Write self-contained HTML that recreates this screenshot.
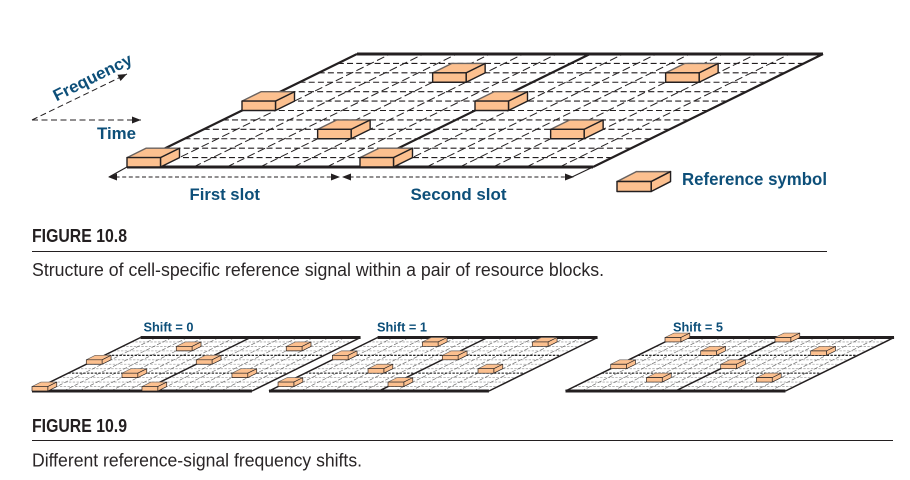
<!DOCTYPE html>
<html>
<head>
<meta charset="utf-8">
<style>
html,body{margin:0;padding:0;background:#fff;width:910px;height:480px;overflow:hidden}
svg{display:block}
.b{font-family:"Liberation Sans",sans-serif;font-weight:bold;fill:#0d4f79}
.f{font-family:"Liberation Sans",sans-serif;font-weight:bold;fill:#231f20;font-size:18.5px}
.c{font-family:"Liberation Sans",sans-serif;fill:#2a2627;font-size:18px}
</style>
</head>
<body>
<svg width="910" height="480" viewBox="0 0 910 480" xmlns="http://www.w3.org/2000/svg">
<defs>
<path id="hl" fill="none" d="M19.17 -9.42h466M38.33 -18.83h466M57.5 -28.25h466M76.67 -37.67h466M95.83 -47.08h466M115 -56.5h466M134.17 -65.92h466M153.33 -75.33h466M172.5 -84.75h466M191.67 -94.17h466M210.83 -103.58h466"/>
<path id="sl" fill="none" d="M33.29 0l230 -113M66.57 0l230 -113M99.86 0l230 -113M133.14 0l230 -113M166.43 0l230 -113M199.71 0l230 -113M266.29 0l230 -113M299.57 0l230 -113M332.86 0l230 -113M366.14 0l230 -113M399.43 0l230 -113M432.71 0l230 -113"/>
<path id="fh" fill="none" d="M0 0H466M230 -113H696"/>
<path id="fs" fill="none" d="M0 0l230 -113M233 0l230 -113M466 0l230 -113"/>
<g id="k" stroke="#231f20" stroke-width="1.4" stroke-linejoin="round" fill="#fcc08f">
<path d="M0 -9.4L19 -18.8H52.5L33.5 -9.4Z" stroke="#6a6360"/>
<path d="M33.5 0L52.5 -9.4V-18.8L33.5 -9.4Z"/>
<rect x="0" y="-9.4" width="33.5" height="9.4"/>
</g>
<g id="s0">
<use href="#k" x="0" y="0"/><use href="#k" x="233" y="0"/>
<use href="#k" x="190.64" y="-28.25"/><use href="#k" x="423.64" y="-28.25"/>
<use href="#k" x="115" y="-56.5"/><use href="#k" x="348" y="-56.5"/>
<use href="#k" x="305.64" y="-84.75"/><use href="#k" x="538.64" y="-84.75"/>
</g>
<g id="s5">
<use href="#k" x="171.47" y="-18.83"/><use href="#k" x="404.47" y="-18.83"/>
<use href="#k" x="95.83" y="-47.08"/><use href="#k" x="328.83" y="-47.08"/>
<use href="#k" x="286.47" y="-75.33"/><use href="#k" x="519.47" y="-75.33"/>
<use href="#k" x="210.83" y="-103.58"/><use href="#k" x="443.83" y="-103.58"/>
</g>
<g id="sm">
<use href="#hl" stroke="#aaaaaa" stroke-width="1.8" stroke-dasharray="5 3"/>
<use href="#sl" stroke="#6a6a6a" stroke-width="1.4" stroke-dasharray="9 4"/>
<path fill="none" stroke="#111" stroke-width="2.2" stroke-dasharray="5 3" d="M76.67 -37.67h466M153.33 -75.33h466"/>
<use href="#fs" stroke="#231f20" stroke-width="3.2"/>
<use href="#fh" stroke="#231f20" stroke-width="6.4"/>
</g>
<marker id="a" markerWidth="10" markerHeight="8" refX="9" refY="3.5" orient="auto" markerUnits="userSpaceOnUse"><path d="M0 0L9 3.5L0 7Z" fill="#231f20"/></marker>
<marker id="as" markerWidth="10" markerHeight="8" refX="1" refY="3.5" orient="auto" markerUnits="userSpaceOnUse"><path d="M9 0L0 3.5L9 7Z" fill="#231f20"/></marker>
</defs>

<!-- Figure 10.8 grid -->
<g transform="translate(127,167)">
<use href="#hl" stroke="#231f20" stroke-width="1.05" stroke-dasharray="6 3.2"/>
<use href="#sl" stroke="#231f20" stroke-width="1" stroke-dasharray="8 3.5"/>
<use href="#fs" stroke="#231f20" stroke-width="2.2"/>
<use href="#fh" stroke="#231f20" stroke-width="3"/>
<use href="#s0"/>
</g>

<!-- axes -->
<path d="M32 120L127 74" fill="none" stroke="#231f20" stroke-width="1" stroke-dasharray="6 3.5" marker-end="url(#a)"/>
<path d="M32 120H141" fill="none" stroke="#231f20" stroke-width="1" stroke-dasharray="6 3.5" marker-end="url(#a)"/>
<text class="b" font-size="16.5" transform="translate(56.5,101.5) rotate(-26.5)" textLength="86" lengthAdjust="spacingAndGlyphs">Frequency</text>
<text class="b" font-size="16.5" x="97" y="139" textLength="39" lengthAdjust="spacingAndGlyphs">Time</text>

<!-- slot arrows -->
<path d="M109 177H340" fill="none" stroke="#231f20" stroke-width="1.1" stroke-dasharray="4 2.6" marker-start="url(#as)" marker-end="url(#a)"/>
<path d="M343 177H574" fill="none" stroke="#231f20" stroke-width="1.1" stroke-dasharray="4 2.6" marker-start="url(#as)" marker-end="url(#a)"/>
<path d="M109 177L127 167M572 177L593 167" fill="none" stroke="#231f20" stroke-width="1.1"/>
<text class="b" font-size="17" x="189.5" y="200" textLength="70.5" lengthAdjust="spacingAndGlyphs">First slot</text>
<text class="b" font-size="17" x="410.5" y="200" textLength="96" lengthAdjust="spacingAndGlyphs">Second slot</text>

<!-- legend -->
<use href="#k" transform="translate(617,191.5) scale(1.02,1.06)"/>
<text class="b" font-size="17.5" x="682" y="185" textLength="145" lengthAdjust="spacingAndGlyphs">Reference symbol</text>

<!-- caption 10.8 -->
<text class="f" x="32" y="242" textLength="95" lengthAdjust="spacingAndGlyphs">FIGURE 10.8</text>
<rect x="32" y="251" width="795" height="1" fill="#231f20"/>
<text class="c" x="32" y="276" textLength="572" lengthAdjust="spacingAndGlyphs">Structure of cell-specific reference signal within a pair of resource blocks.</text>

<!-- Figure 10.9 grids -->
<text class="b" font-size="12.7" x="143.5" y="331.5" textLength="50" lengthAdjust="spacingAndGlyphs">Shift = 0</text>
<text class="b" font-size="12.7" x="377" y="331.5" textLength="50" lengthAdjust="spacingAndGlyphs">Shift = 1</text>
<text class="b" font-size="12.7" x="673" y="331.5" textLength="50" lengthAdjust="spacingAndGlyphs">Shift = 5</text>

<g transform="translate(32,391) scale(.472,.4735)">
<use href="#sm"/><use href="#s0"/>
</g>
<g transform="translate(269,391) scale(.472,.4735)">
<use href="#sm"/><use href="#s0" x="19.17" y="-9.42"/>
</g>
<g transform="translate(565.5,391) scale(.472,.4735)">
<use href="#sm"/><use href="#s5"/>
</g>

<!-- caption 10.9 -->
<text class="f" x="32" y="432" textLength="95" lengthAdjust="spacingAndGlyphs">FIGURE 10.9</text>
<rect x="32" y="440" width="861" height="1" fill="#231f20"/>
<text class="c" x="32" y="466.5" textLength="330" lengthAdjust="spacingAndGlyphs">Different reference-signal frequency shifts.</text>
</svg>
</body>
</html>
